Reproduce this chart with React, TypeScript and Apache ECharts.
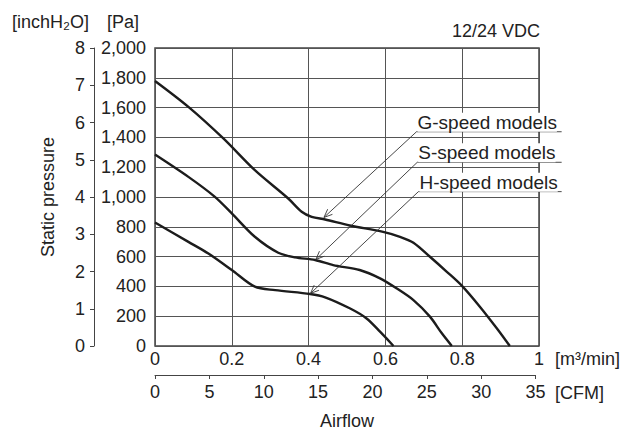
import React, { useEffect, useRef } from "react";
import * as echarts from "echarts";

// Airflow [m3/min] vs static pressure [Pa]
const G_X = [0, 0.087, 0.178, 0.26, 0.347, 0.382, 0.408, 0.443, 0.507, 0.594, 0.638, 0.673, 0.716, 0.76, 0.8, 0.846, 0.89, 0.924];
const G_Y = [1779, 1605, 1393, 1180, 990, 901, 867, 849, 809, 766, 733, 693, 599, 498, 402, 264, 119, 0];
const S_X = [0, 0.087, 0.156, 0.2, 0.26, 0.321, 0.365, 0.417, 0.464, 0.533, 0.586, 0.629, 0.673, 0.716, 0.747, 0.773];
const S_Y = [1285, 1135, 1001, 890, 733, 626, 595, 577, 543, 510, 454, 387, 308, 197, 85, 0];
const H_X = [0, 0.087, 0.139, 0.2, 0.26, 0.313, 0.404, 0.443, 0.507, 0.551, 0.586, 0.621];
const H_Y = [829, 699, 621, 510, 398, 375, 349, 327, 253, 185, 96, 0];

const SERIES_NAMES = ["G-speed models", "S-speed models", "H-speed models"];

// annotation leader lines (data coordinates)
const ARROW_FROM_X = [0.681, 0.683, 0.686];
const ARROW_FROM_Y = [1438, 1233, 1036];
const ARROW_TO_X = [0.44, 0.419, 0.405];
const ARROW_TO_Y = [863, 581, 353];
const UNDERLINE_END_X = 1.059;

// axis ticks
const PA_MIN = 0, PA_MAX = 2000, PA_STEP = 200;
const INCH_MIN = 0, INCH_MAX = 8, INCH_STEP = 1;
const M3_MIN = 0, M3_MAX = 1, M3_STEP = 0.2;
const CFM_MIN = 0, CFM_MAX = 35, CFM_STEP = 5;
const CFM_PER_M3 = 35.31;

const FONT = "'Liberation Sans', Arial, Helvetica, sans-serif";
const TXT = "#222";
const AX = "#444";

function zip(xs: number[], ys: number[]) {
  return xs.map((x, i) => [x, ys[i]]);
}

export default function App() {
  const ref = useRef<HTMLDivElement>(null);
  useEffect(() => {
    if (!ref.current) return;
    const chart = echarts.init(ref.current, null, { renderer: "svg" });
    const gLeft = 155, gTop = 48, gW = 384, gH = 298;
    const option: any = {
      animation: false,
      backgroundColor: "#fff",
      textStyle: { fontFamily: FONT },
      grid: [
        { left: gLeft, top: gTop, width: gW, height: gH, show: true, borderColor: AX, borderWidth: 1.5, backgroundColor: "transparent" },
        { left: gLeft, top: 374, width: gW * CFM_MAX / CFM_PER_M3, height: 1, show: false },
      ],
      xAxis: [
        {
          type: "value", gridIndex: 0, min: M3_MIN, max: M3_MAX, interval: M3_STEP,
          axisLine: { show: false }, axisTick: { show: false },
          splitLine: { show: true, lineStyle: { color: "#555", width: 1 } },
          axisLabel: { color: TXT, fontSize: 18, fontFamily: FONT, margin: 4, formatter: (v: number) => String(Number(v.toFixed(1))) },
        },
        {
          type: "value", gridIndex: 1, min: CFM_MIN, max: CFM_MAX, interval: CFM_STEP, position: "bottom",
          axisLine: { show: true, lineStyle: { color: AX, width: 1 } },
          axisTick: { show: true, inside: false, length: 4, lineStyle: { color: AX } },
          splitLine: { show: false },
          axisLabel: { color: TXT, fontSize: 18, fontFamily: FONT, margin: 8 },
        },
      ],
      yAxis: [
        {
          type: "value", gridIndex: 0, min: PA_MIN, max: PA_MAX, interval: PA_STEP,
          axisLine: { show: false }, axisTick: { show: false },
          splitLine: { show: true, lineStyle: { color: "#555", width: 1 } },
          axisLabel: { color: TXT, fontSize: 18, fontFamily: FONT, margin: 9, formatter: (v: number) => v.toLocaleString("en-US") },
        },
        {
          type: "value", gridIndex: 0, min: INCH_MIN, max: INCH_MAX, interval: INCH_STEP, position: "left", offset: 61,
          axisLine: { show: true, lineStyle: { color: AX, width: 1 } },
          axisTick: { show: true, inside: false, length: 4, lineStyle: { color: AX } },
          splitLine: { show: false },
          axisLabel: { color: TXT, fontSize: 18, fontFamily: FONT, margin: 9 },
        },
        { type: "value", gridIndex: 1, min: 0, max: 1, show: false },
      ],
      series: [
        { name: SERIES_NAMES[0], data: zip(G_X, G_Y) },
        { name: SERIES_NAMES[1], data: zip(S_X, S_Y) },
        { name: SERIES_NAMES[2], data: zip(H_X, H_Y) },
      ].map((s) => ({
        ...s, type: "line", xAxisIndex: 0, yAxisIndex: 0, smooth: 0.3, showSymbol: false, symbol: "none",
        lineStyle: { color: "#1c1c1c", width: 2.4 }, clip: true, z: 5,
      })),
    };
    chart.setOption(option);

    const px = (x: number, y: number) => chart.convertToPixel({ xAxisIndex: 0, yAxisIndex: 0 }, [x, y]) as number[];
    const graphics: any[] = [];
    const txt = (text: string, x: number, y: number, align: string, extra: any = {}) => ({
      type: "text", x, y, z: 20, ...extra,
      style: { text, fill: TXT, fontSize: 18, fontFamily: FONT, textAlign: align, textVerticalAlign: "middle" },
    });
    graphics.push(txt("[inchH\u2082O]", 12, 22, "left"));
    graphics.push(txt("[Pa]", 107, 22, "left"));
    graphics.push(txt("12/24 VDC", 540, 30.5, "right"));
    graphics.push(txt("Static pressure", 48, 197, "center", { rotation: Math.PI / 2 }));
    graphics.push(txt("Airflow", 347, 421, "center"));
    graphics.push(txt("[m\u00B3/min]", 555, 359, "left"));
    graphics.push(txt("[CFM]", 555, 392.5, "left"));

    const ls = { stroke: "#333", lineWidth: 0.9 };
    for (let i = 0; i < SERIES_NAMES.length; i++) {
      const a = px(ARROW_FROM_X[i], ARROW_FROM_Y[i]);
      const b = px(ARROW_TO_X[i], ARROW_TO_Y[i]);
      const e = px(UNDERLINE_END_X, ARROW_FROM_Y[i]);
      graphics.push({ type: "line", z: 15, shape: { x1: a[0], y1: a[1], x2: b[0], y2: b[1] }, style: ls });
      graphics.push({ type: "line", z: 15, shape: { x1: a[0], y1: a[1], x2: e[0], y2: a[1] }, style: ls });
      const dx = a[0] - b[0], dy = a[1] - b[1];
      const len = Math.hypot(dx, dy);
      const ux = dx / len, uy = dy / len;
      const L = 9, ang = 0.4;
      for (const s of [-1, 1]) {
        const c = Math.cos(s * ang), sn = Math.sin(s * ang);
        const rx = ux * c - uy * sn, ry = ux * sn + uy * c;
        graphics.push({ type: "line", z: 15, shape: { x1: b[0], y1: b[1], x2: b[0] + rx * L, y2: b[1] + ry * L }, style: ls });
      }
      graphics.push({
        type: "text", x: a[0] + 1, y: a[1] - 9.5, z: 20,
        style: { text: SERIES_NAMES[i], fill: TXT, fontSize: 19, fontFamily: FONT, textAlign: "left", textVerticalAlign: "middle", backgroundColor: "#fff" },
      });
    }
    chart.setOption({ graphic: graphics });
    return () => chart.dispose();
  }, []);
  return <div ref={ref} style={{ position: "fixed", left: 0, top: 0, width: 632, height: 432, background: "#fff" }} />;
}
